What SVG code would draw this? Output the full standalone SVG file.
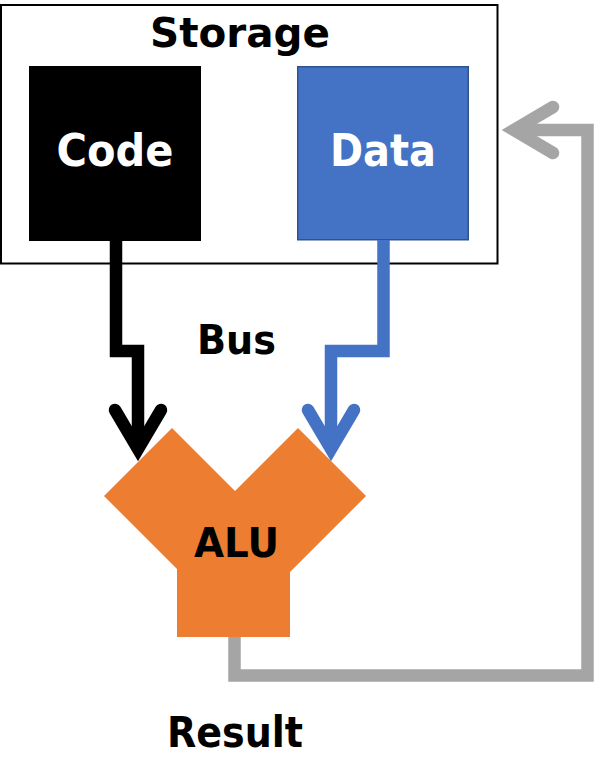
<svg xmlns="http://www.w3.org/2000/svg" width="595" height="780" viewBox="0 0 595 780">
<style>
text{font-family:"DejaVu Sans","Liberation Sans",sans-serif;font-weight:bold;text-anchor:middle}
.conn{fill:none;stroke-width:12.5;stroke-linejoin:miter;stroke-miterlimit:10}
.head{fill:none;stroke-width:12.5;stroke-linecap:round;stroke-linejoin:miter;stroke-miterlimit:10}
</style>
<rect width="595" height="780" fill="#ffffff"/>
<g id="storage">
<rect x="1" y="5" width="496.5" height="258.5" fill="#ffffff" stroke="#000000" stroke-width="2"/>
<text x="240" y="47" font-size="40" fill="#000000" textLength="180" lengthAdjust="spacingAndGlyphs">Storage</text>
</g>
<g id="code">
<rect x="29" y="66" width="172" height="175" fill="#000000"/>
<text x="115" y="166" font-size="44" fill="#ffffff" textLength="117" lengthAdjust="spacingAndGlyphs">Code</text>
</g>
<g id="data">
<rect x="297.75" y="66.75" width="170.5" height="173" fill="#4472C4" stroke="#2F528F" stroke-width="1.5"/>
<text x="383" y="166" font-size="44" fill="#ffffff" textLength="106" lengthAdjust="spacingAndGlyphs">Data</text>
</g>
<g id="alu">
<polygon points="104,496 172,428 235,491 298,428 366,496 290,572 290,637 177,637 177,569" fill="#ED7D31"/>
<text x="236.5" y="557" font-size="41" fill="#000000" textLength="85" lengthAdjust="spacingAndGlyphs">ALU</text>
</g>
<g id="connectors">
<path class="conn" d="M116,241 V351 H138 V449" stroke="#000000"/>
<polyline class="head" points="115,410 138,449 161,410" stroke="#000000"/>
<path class="conn" d="M383.5,240 V351 H331 V449" stroke="#4472C4"/>
<polyline class="head" points="308,410 331,449 354,410" stroke="#4472C4"/>
<path class="conn" d="M234.5,637 V675.5 H587.5 V130 H514" stroke="#A5A5A5"/>
<polyline class="head" points="553,107 514,130 553,153" stroke="#A5A5A5"/>
</g>
<g id="labels">
<text x="236.5" y="354" font-size="40" fill="#000000" textLength="79" lengthAdjust="spacingAndGlyphs">Bus</text>
<text x="235" y="747" font-size="43" fill="#000000" textLength="136" lengthAdjust="spacingAndGlyphs">Result</text>
</g>
</svg>
